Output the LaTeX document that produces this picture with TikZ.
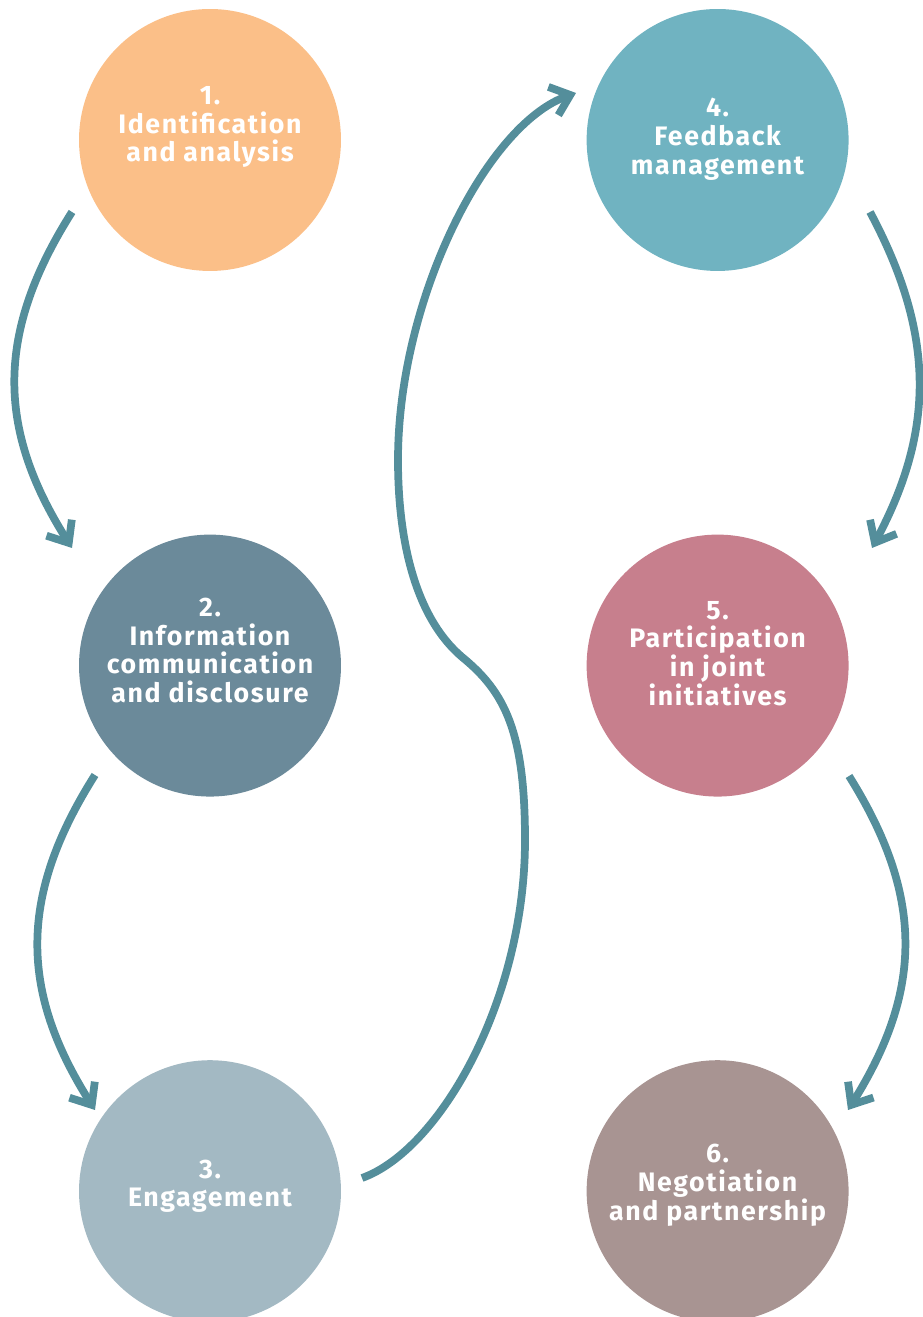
\documentclass[tikz,border=0pt]{standalone}
\usepackage{fontspec}
\setmainfont{Fira Sans}[LetterSpace=6]
\usetikzlibrary{arrows.meta,calc,positioning}

\definecolor{stepA}{HTML}{FBBF88}
\definecolor{stepB}{HTML}{6B8A9A}
\definecolor{stepC}{HTML}{A3B9C3}
\definecolor{stepD}{HTML}{70B3C1}
\definecolor{stepE}{HTML}{C77F8D}
\definecolor{stepF}{HTML}{A89492}
\definecolor{flowcol}{HTML}{548E9B}

\begin{document}
\begin{tikzpicture}[x=0.02cm,y=0.02cm]

\tikzset{
stage/.style={circle,minimum size=5.24cm,inner sep=0mm,draw=none},
lbl/.style={text=white,align=center,font=\fontsize{15.2}{16.4}\selectfont\bfseries},
flow/.style={-{Straight Barb[length=3.6mm,width=6mm]},draw=flowcol,line width=4.4pt}}

\useasboundingbox (0,0) rectangle (922,1317);

% Stages
\node[stage,fill=stepA] (c1) at (210,1177) {};
\node[stage,fill=stepB] (c2) [below=5.26cm of c1] {};
\node[stage,fill=stepC] (c3) [below=5.26cm of c2] {};
\node[stage,fill=stepD] (c4) [right=4.9cm of c1] {};
\node[stage,fill=stepE] (c5) [below=5.26cm of c4] {};
\node[stage,fill=stepF] (c6) [below=5.26cm of c5] {};

% Labels
\node[lbl] (t1) at ($(c1)+(0,13)$) {1.\\Identification\\and analysis};
\node[lbl] (t2) at ($(c2)+(0,15)$) {2.\\Information\\communication\\and disclosure};
\node[lbl] (t3) at ($(c3)+(0,5)$) {3.\\Engagement};
\node[lbl] (t4) at ($(c4)+(0,1)$) {4.\\Feedback\\management};
\node[lbl] (t5) at ($(c5)+(0,12)$) {5.\\Participation\\in joint\\initiatives};
\node[lbl] (t6) at ($(c6)+(0,6)$) {6.\\Negotiation\\and partnership};

% Arrow ends
\coordinate (a1s) at (72,1105);
\coordinate (a1e) at (72,769);
\coordinate (a2s) at (95,542);
\coordinate (a2e) at (95,207);
\coordinate (a3s) at (362,139);
\coordinate (a3e) at (576,1224);
\coordinate (a4s) at (870,1105);
\coordinate (a4e) at (872,769);
\coordinate (a5s) at (849,541);
\coordinate (a5e) at (848,207);

% Arrows
\draw[flow] (a1s) .. controls +(-76,-120) and +(-76,120) .. (a1e);
\draw[flow] (a2s) .. controls +(-76,-120) and +(-76,120) .. (a2e);
\draw[flow] (a3s) .. controls (440,167) and (525,317) .. (525,477)
  .. controls (525,585) and (505,625) .. (462,660)
  .. controls (415,700) and (398,777) .. (398,857)
  .. controls (398,1017) and (486,1192) .. (a3e);
\draw[flow] (a4s) .. controls +(64,-120) and +(64,120) .. (a4e);
\draw[flow] (a5s) .. controls +(75,-120) and +(75,120) .. (a5e);

\end{tikzpicture}
\end{document}
